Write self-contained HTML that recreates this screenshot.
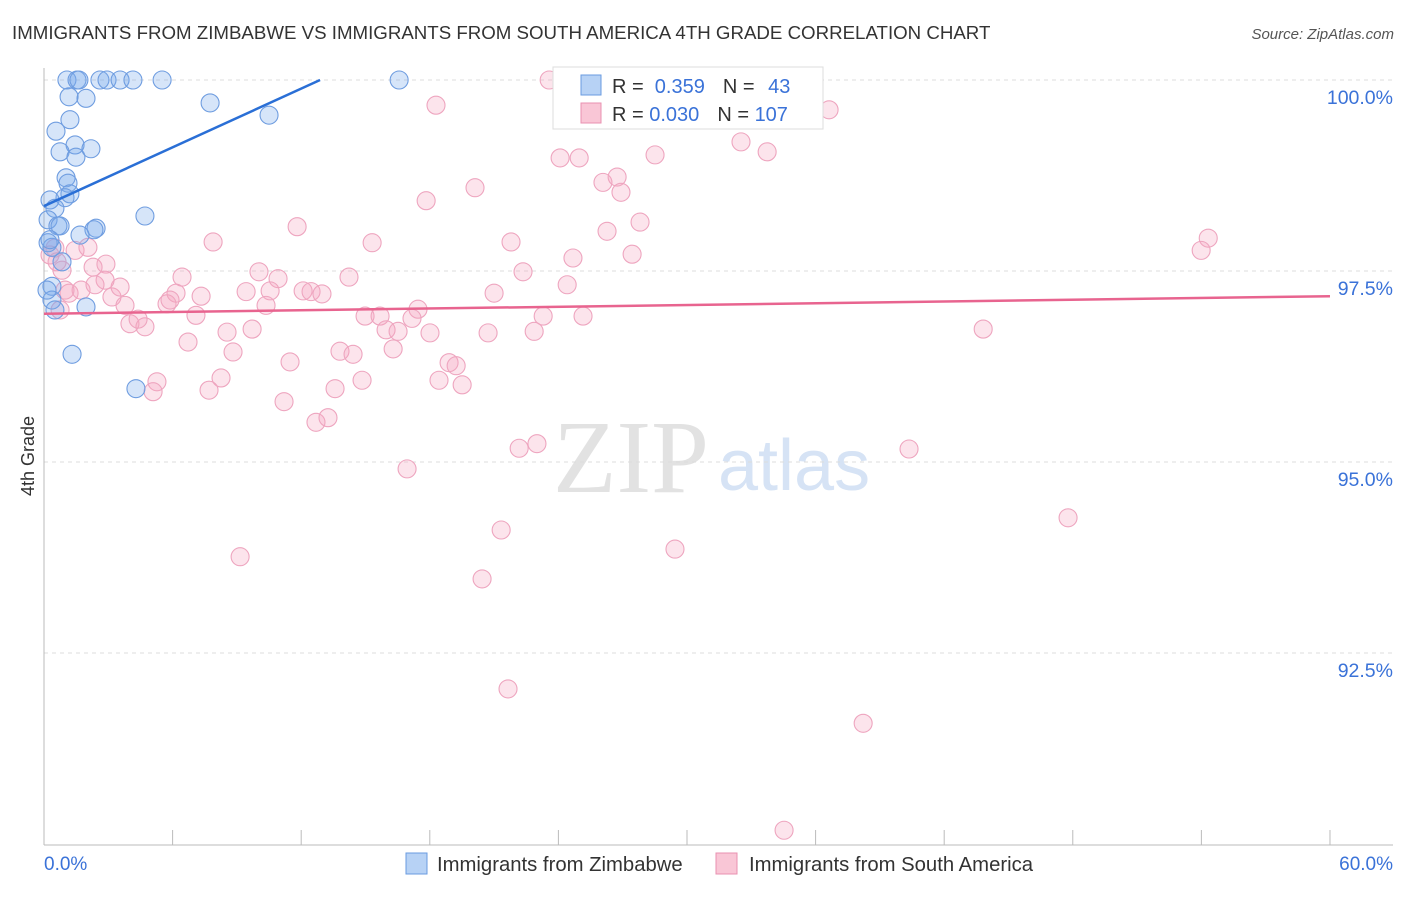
<!DOCTYPE html>
<html><head><meta charset="utf-8"><style>
body{margin:0;background:#fff;width:1406px;height:892px;overflow:hidden;font-family:"Liberation Sans",sans-serif}
</style></head><body>
<svg id="chart" width="1406" height="892" xmlns="http://www.w3.org/2000/svg" font-family="Liberation Sans, sans-serif">
<text x="12" y="39" font-size="18.7" fill="#333">IMMIGRANTS FROM ZIMBABWE VS IMMIGRANTS FROM SOUTH AMERICA 4TH GRADE CORRELATION CHART</text>
<text x="1394" y="39" font-size="15" fill="#555" font-style="italic" text-anchor="end">Source: ZipAtlas.com</text>
<text transform="translate(34,456) rotate(-90)" font-size="18" fill="#333" text-anchor="middle">4th Grade</text>
<g>
<text x="553" y="492" font-size="104" fill="#e2e2e2" font-family="Liberation Serif, serif">ZIP</text>
<text x="718" y="490" font-size="72" fill="#d6e3f5">atlas</text>
</g>
<g id="grid"></g><g id="axes"></g><g id="marks"></g><g id="trends"></g>
<g>
<rect x="553" y="67" width="270" height="62" fill="#fff" stroke="#ddd"/>
<rect x="581" y="75" width="20" height="20" fill="#b7d2f5" stroke="#6a9be0"/>
<rect x="581" y="103" width="20" height="20" fill="#f9c6d6" stroke="#e990b0"/>
<text x="612" y="93" font-size="20" fill="#333">R = <tspan fill="#3a72d8">&#160;0.359</tspan><tspan dx="18">N = </tspan><tspan fill="#3a72d8" dx="8">43</tspan></text>
<text x="612" y="121" font-size="20" fill="#333">R = <tspan fill="#3a72d8">0.030</tspan><tspan dx="18">N = </tspan><tspan fill="#3a72d8">107</tspan></text>
</g>
<g>
<rect x="406" y="853" width="21" height="21" fill="#b7d2f5" stroke="#6a9be0"/>
<text x="437" y="871" font-size="20.3" fill="#333">Immigrants from Zimbabwe</text>
<rect x="716" y="853" width="21" height="21" fill="#f9c6d6" stroke="#e990b0"/>
<text x="749" y="871" font-size="20.3" fill="#333">Immigrants from South America</text>
</g>
</svg>
<script>
const yTicks=[100,97.5,95,92.5];
const yTickLabels=["100.0%","97.5%","95.0%","92.5%"];
const xTickLabels=["0.0%","60.0%"];
const zimX=[1.07,1.54,1.63,2.61,2.94,3.55,4.15,5.51,16.57,1.17,1.96,7.75,10.5,0.56,1.21,1.45,0.75,1.49,2.19,1.03,1.12,1.21,0.98,4.71,0.28,0.51,0.19,0.65,0.75,2.43,2.33,1.68,0.19,0.37,0.84,0.37,0.37,0.51,1.96,1.31,4.29,0.14,0.28];
const zimY=[100,100,100,100,100,100,100,100,100,99.78,99.76,99.70,99.54,99.33,99.48,99.15,99.06,98.99,99.10,98.72,98.65,98.51,98.46,98.22,98.43,98.32,98.17,98.09,98.09,98.06,98.04,97.97,97.87,97.81,97.62,97.30,97.12,96.99,97.03,96.41,95.96,97.25,97.91];
const saX=[23.57,35.37,18.29,36.63,32.52,33.74,24.08,24.97,28.51,20.11,26.08,26.74,26.92,17.83,27.81,26.27,11.81,7.89,15.31,21.79,24.68,27.44,54.32,53.99,0.28,0.51,1.45,2.05,0.84,2.29,2.89,6.44,10.03,10.92,14.23,22.35,24.41,1.17,1.73,3.17,3.55,6.16,7.33,9.43,10.55,12.09,12.46,12.97,21.0,3.78,5.74,5.88,7.09,10.36,14.98,15.68,17.45,17.17,23.29,25.15,4.01,4.71,4.39,8.54,9.71,15.96,16.52,18.01,20.72,22.87,43.82,6.72,8.82,13.81,14.42,16.29,11.48,18.9,19.23,8.26,5.27,5.09,7.7,13.58,14.84,18.43,19.51,11.2,12.69,13.25,16.94,22.17,23.0,40.36,47.78,21.33,29.44,9.15,20.44,21.65,38.22,34.53,0.98,2.85,2.38,0.75,0.61];
const saY=[100,100,99.67,99.61,99.19,99.06,98.98,98.98,99.02,98.59,98.66,98.73,98.53,98.42,98.14,98.02,98.08,97.88,97.87,97.88,97.67,97.72,97.93,97.77,97.71,97.80,97.77,97.81,97.51,97.55,97.59,97.42,97.49,97.40,97.42,97.49,97.32,97.21,97.25,97.16,97.29,97.21,97.17,97.23,97.24,97.24,97.23,97.20,97.21,97.05,97.07,97.12,96.92,97.05,96.91,96.91,97.0,96.88,96.91,96.91,96.81,96.77,96.87,96.70,96.74,96.73,96.71,96.69,96.69,96.71,96.74,96.57,96.44,96.45,96.41,96.48,96.31,96.30,96.26,96.10,96.05,95.92,95.94,95.96,96.07,96.07,96.01,95.79,95.52,95.58,94.91,95.18,95.24,95.17,94.27,94.11,93.86,93.76,93.47,92.03,91.58,90.18,97.25,97.38,97.32,96.99,97.62];
const zimTrend=[[0,98.35],[12.88,100]];
const saTrend=[[0,96.94],[60,97.17]];
const NS="http://www.w3.org/2000/svg";
const X=v=>44+v*21.433, Y=v=>80+(100-v)/2.5*191;
function mk(t,a,p){const e=document.createElementNS(NS,t);for(const k in a)e.setAttribute(k,a[k]);document.getElementById(p).appendChild(e);return e;}
yTicks.forEach((t,i)=>{
 const l=mk('line',{x1:44,x2:1393,y1:Y(t),y2:Y(t),stroke:'#dcdcdc','stroke-dasharray':'4,4'},'grid');
 
 
 const tx=mk('text',{x:1393,y:Y(t)+24,'font-size':19.5,fill:'#3a72d8','text-anchor':'end'},'grid');
 tx.textContent=yTickLabels[i];
 
 
});
const ax=mk('line',{x1:44,x2:44,y1:68,y2:845,stroke:'#bbb'},'axes');


const bx=mk('line',{x1:44,x2:1393,y1:845,y2:845,stroke:'#bbb'},'axes');


for(let i=0;i<=10;i++){const t=mk('line',{x1:X(i*6),x2:X(i*6),y1:830,y2:845,stroke:'#bbb'},'axes');
 
 }
const l0=mk('text',{x:44,y:870,'font-size':19,fill:'#3a72d8'},'axes');l0.textContent=xTickLabels[0];


const l1=mk('text',{x:1393,y:870,'font-size':19,fill:'#3a72d8','text-anchor':'end'},'axes');l1.textContent=xTickLabels[1];


saX.forEach((v,i)=>{const c=mk('circle',{cx:X(v),cy:Y(saY[i]),r:9,fill:'rgba(244,165,192,0.3)',stroke:'#eea5bf','stroke-width':1.1},'marks');
 
 });
zimX.forEach((v,i)=>{const c=mk('circle',{cx:X(v),cy:Y(zimY[i]),r:9,fill:'rgba(120,170,235,0.3)',stroke:'#6f9de0','stroke-width':1.1},'marks');
 
 });
const tz=mk('line',{x1:X(zimTrend[0][0]),y1:Y(zimTrend[0][1]),x2:X(zimTrend[1][0]),y2:Y(zimTrend[1][1]),stroke:'#2a6fd6','stroke-width':2.5},'trends');


const ts=mk('line',{x1:X(saTrend[0][0]),y1:Y(saTrend[0][1]),x2:X(saTrend[1][0]),y2:Y(saTrend[1][1]),stroke:'#e8648f','stroke-width':2.5},'trends');


</script>
</body></html>
